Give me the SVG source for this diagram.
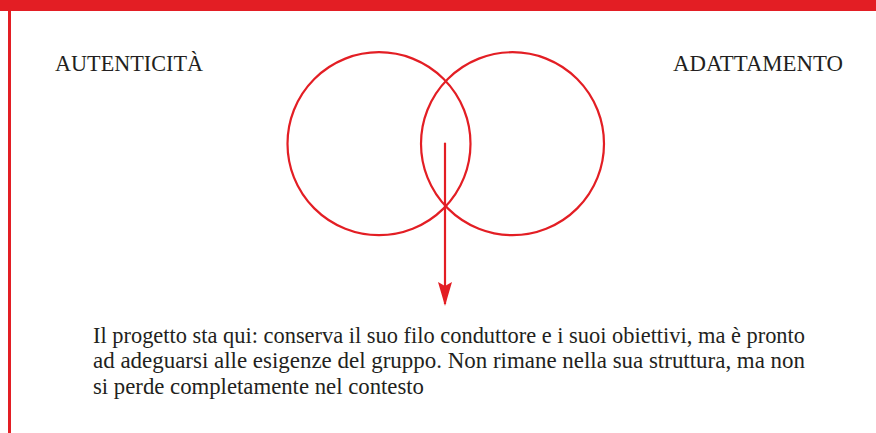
<svg xmlns="http://www.w3.org/2000/svg" width="876" height="433" viewBox="0 0 876 433">
<style>
.frame{fill:#e31e24}
.ring{fill:none;stroke:#e31e24;stroke-width:2.2}
.lbl{font-family:"Liberation Serif","Times New Roman",serif;font-size:24px;fill:#231f20}
.para{font-family:"Liberation Serif","Times New Roman",serif;font-size:24px;fill:#231f20}
.conn{stroke:#e31e24;stroke-width:2.2;fill:none}
</style>
<defs>
<marker id="ah" viewBox="0 0 24 14" refX="22" refY="7" markerWidth="24" markerHeight="14" markerUnits="userSpaceOnUse" orient="auto">
<path d="M0,0 L24,7 L0,14 L4,7 Z" fill="#e31e24"/>
</marker>
</defs>
<rect width="876" height="433" fill="#fff"/>
<rect class="frame" x="0" y="0" width="876" height="11"/>
<rect class="frame" x="8" y="11" width="3" height="422"/>
<g id="autenticita">
<circle class="ring" cx="379" cy="143.7" r="91.5"/>
<text class="lbl" x="55" y="71" textLength="148" lengthAdjust="spacingAndGlyphs">AUTENTICITÀ</text>
</g>
<g id="adattamento">
<circle class="ring" cx="512.5" cy="143.7" r="91.5"/>
<text class="lbl" x="673" y="71" textLength="170" lengthAdjust="spacingAndGlyphs">ADATTAMENTO</text>
</g>
<g id="connectors">
<path class="conn" d="M445,142.7 L445,304" marker-end="url(#ah)"/>
</g>
<g id="description">
<text class="para" x="93" y="343" textLength="712" lengthAdjust="spacingAndGlyphs">Il progetto sta qui: conserva il suo filo conduttore e i suoi obiettivi, ma è pronto</text>
<text class="para" x="93" y="368" textLength="712" lengthAdjust="spacingAndGlyphs">ad adeguarsi alle esigenze del gruppo. Non rimane nella sua struttura, ma non</text>
<text class="para" x="93" y="394" textLength="331" lengthAdjust="spacingAndGlyphs">si perde completamente nel contesto</text>
</g>
</svg>
